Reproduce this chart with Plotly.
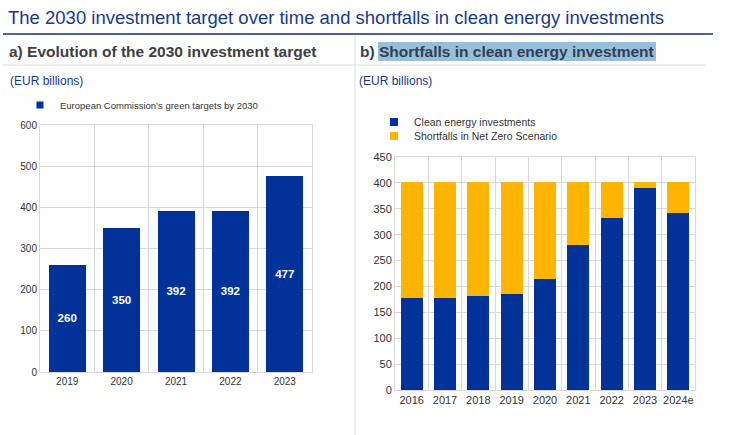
import plotly.graph_objects as go

# ---- data ----
years_a = ["2019", "2020", "2021", "2022", "2023"]
targets_a = [260, 350, 392, 392, 477]

years_b = ["2016", "2017", "2018", "2019", "2020", "2021", "2022", "2023", "2024e"]
clean_b = [178, 178, 182, 185, 215, 280, 333, 391, 342]
shortfall_b = [224, 224, 220, 217, 187, 122, 69, 11, 60]

BLUE = "#003299"
YELLOW = "#FFB400"
TITLE_BLUE = "#163a8c"
W, H = 729, 435
FONT = "Liberation Sans, Arial, sans-serif"


def px_x(p):
    return p / W


def px_y(p):
    return 1 - p / H


fig = go.Figure()

fig.add_trace(go.Bar(
    x=years_a, y=targets_a, marker_color=BLUE, marker_line_width=0,
    text=[str(v) for v in targets_a], textposition="inside",
    insidetextanchor="middle",
    textfont=dict(color="white", size=11.5, family=FONT, weight="bold"),
    width=0.68, showlegend=False, xaxis="x", yaxis="y",
))
fig.add_trace(go.Scatter(
    x=[None], y=[None], mode="markers",
    marker=dict(symbol="square", size=7, color=BLUE),
    name="European Commission\u2019s green targets by 2030",
    xaxis="x", yaxis="y", legend="legend",
))

fig.add_trace(go.Bar(
    x=years_b, y=clean_b, marker_color=BLUE, marker_line_width=0,
    width=0.66, showlegend=False, xaxis="x2", yaxis="y2",
))
fig.add_trace(go.Bar(
    x=years_b, y=shortfall_b, marker_color=YELLOW, marker_line_width=0,
    width=0.66, showlegend=False, xaxis="x2", yaxis="y2",
))
fig.add_trace(go.Scatter(
    x=[None], y=[None], mode="markers",
    marker=dict(symbol="square", size=8, color=BLUE),
    name="Clean energy investments", xaxis="x2", yaxis="y2", legend="legend2",
))
fig.add_trace(go.Scatter(
    x=[None], y=[None], mode="markers",
    marker=dict(symbol="square", size=8, color=YELLOW),
    name="Shortfalls in Net Zero Scenario", xaxis="x2", yaxis="y2", legend="legend3",
))

GRID = "#d9d9d9"
tickfont = dict(size=10, color="#333333", family=FONT)
tickfont2 = dict(size=11, color="#333333", family=FONT)

common = dict(showgrid=True, gridcolor=GRID, showline=True, linecolor=GRID,
              mirror=True, ticks="", automargin=False, fixedrange=True)

fig.update_layout(
    width=W, height=H, margin=dict(l=0, r=0, t=0, b=0, autoexpand=False),
    paper_bgcolor="white", plot_bgcolor="white",
    barmode="stack",
    font=dict(family=FONT),
    xaxis=dict(domain=[px_x(40), px_x(312)], anchor="y", type="category",
               tickson="boundaries", tickfont=tickfont, **common),
    yaxis=dict(domain=[px_y(372), px_y(125)], anchor="x", range=[0, 600],
               dtick=100, zeroline=False, tickfont=tickfont, **common),
    xaxis2=dict(domain=[px_x(395), px_x(695)], anchor="y2", type="category",
                tickson="boundaries", tickangle=0, tickfont=tickfont2, **common),
    yaxis2=dict(domain=[px_y(390), px_y(157)], anchor="x2", range=[0, 450],
                dtick=50, zeroline=False, tickfont=tickfont2, **common),
    legend=dict(x=px_x(20), y=px_y(105), xanchor="left", yanchor="middle",
                bgcolor="rgba(0,0,0,0)", itemwidth=30, borderwidth=0,
                font=dict(size=9.5, color="#333333", family=FONT)),
    legend2=dict(x=px_x(374), y=px_y(122), xanchor="left", yanchor="middle",
                 bgcolor="rgba(0,0,0,0)", itemwidth=30, borderwidth=0,
                 font=dict(size=10.5, color="#333333", family=FONT)),
    legend3=dict(x=px_x(374), y=px_y(136), xanchor="left", yanchor="middle",
                 bgcolor="rgba(0,0,0,0)", itemwidth=30, borderwidth=0,
                 font=dict(size=10.5, color="#333333", family=FONT)),
)

shapes = [
    dict(type="line", xref="paper", yref="paper", x0=px_x(3), x1=px_x(713),
         y0=px_y(34), y1=px_y(34), line=dict(color="#1c2f6b", width=1.5)),
    dict(type="line", xref="paper", yref="paper", x0=px_x(3), x1=px_x(706),
         y0=px_y(65), y1=px_y(65), line=dict(color="#dcdcdc", width=1)),
    dict(type="line", xref="paper", yref="paper", x0=px_x(355), x1=px_x(355),
         y0=px_y(36), y1=px_y(435), line=dict(color="#dcdcdc", width=1)),
    dict(type="rect", xref="paper", yref="paper", x0=px_x(378), x1=px_x(656),
         y0=px_y(61), y1=px_y(42), fillcolor="#98bfd9", line=dict(width=0),
         layer="below"),
]
fig.update_layout(shapes=shapes)

annots = [
    dict(text="The 2030 investment target over time and shortfalls in clean energy investments",
         x=px_x(6), y=px_y(17), xanchor="left", yanchor="middle",
         font=dict(size=18.5, color=TITLE_BLUE, family=FONT)),
    dict(text="<b>a) Evolution of the 2030 investment target</b>",
         x=px_x(7), y=px_y(51), xanchor="left", yanchor="middle",
         font=dict(size=15.5, color="#404040", family=FONT)),
    dict(text="<b>b) Shortfalls in clean energy investment</b>",
         x=px_x(358), y=px_y(51), xanchor="left", yanchor="middle",
         font=dict(size=15.5, color="#2f3f55", family=FONT)),
    dict(text="(EUR billions)", x=px_x(8), y=px_y(81), xanchor="left", yanchor="middle",
         font=dict(size=12, color=TITLE_BLUE, family=FONT)),
    dict(text="(EUR billions)", x=px_x(357), y=px_y(81), xanchor="left", yanchor="middle",
         font=dict(size=12, color=TITLE_BLUE, family=FONT)),
]
for a in annots:
    a.update(xref="paper", yref="paper", showarrow=False)
fig.update_layout(annotations=annots)

fig.write_html("out.html")
